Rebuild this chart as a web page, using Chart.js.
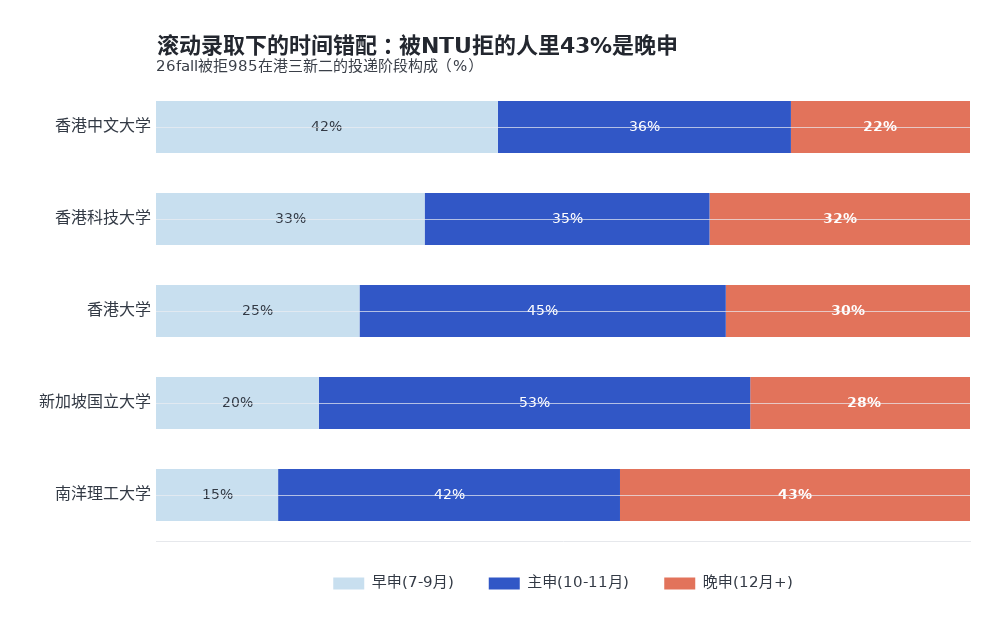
<!DOCTYPE html>
<html>
<head>
<meta charset="utf-8">
<script src="https://cdn.jsdelivr.net/npm/chart.js@4/dist/chart.umd.min.js"></script>
<style>
@font-face{font-family:'LatinDV';src:local('DejaVu Sans'),local('DejaVuSans');font-weight:normal;unicode-range:U+0020-007E,U+00A0-00FF;}
@font-face{font-family:'LatinDV';src:local('DejaVu Sans Bold'),local('DejaVuSans-Bold');font-weight:bold;unicode-range:U+0020-007E,U+00A0-00FF;}
html,body{margin:0;padding:0;background:#fff;}
#wrap{width:1004px;height:631px;position:relative;}
</style>
</head>
<body>
<div id="wrap"><canvas id="c" width="1004" height="631"></canvas></div>
<script>
const categories = ['香港中文大学','香港科技大学','香港大学','新加坡国立大学','南洋理工大学'];
const seriesNames = ['早申(7-9月)','主申(10-11月)','晚申(12月+)'];
const earlyApp = [42,33,25,20,15];
const mainApp = [36,35,45,53,42];
const lateApp = [22,32,30,28,43];
const titleText = '滚动录取下的时间错配：被NTU拒的人里43%是晚申';
const subtitleText = '26fall被拒985在港三新二的投递阶段构成（%）';

const FONT = "'LatinDV','Noto Sans CJK SC','DejaVu Sans',sans-serif";
const colors = ['#c8dfef','#3157c6','#e2735b'];
const labelColors = ['#333a45','#ffffff','#ffffff'];
const labelWeights = ['normal','normal','bold'];

// draw text giving full-width punctuation a whole em cell
function drawMixed(ctx, text, x, y, em){
  const special = {'：':'center','（':'right','）':'left'};
  let run = '';
  const flush = () => {
    if (run){ ctx.fillText(run, x, y); x += ctx.measureText(run).width; run = ''; }
  };
  for (const ch of text){
    if (special[ch]){
      flush();
      const m = ctx.measureText(ch);
      const inkW = m.actualBoundingBoxRight + m.actualBoundingBoxLeft;
      let left;
      if (special[ch] === 'center') left = x + (em - inkW)/2;
      else if (special[ch] === 'right') left = x + em*0.92 - inkW;
      else left = x + em*0.08;
      ctx.fillText(ch, left + m.actualBoundingBoxLeft, y);
      x += em;
    } else run += ch;
  }
  flush();
}

const titlePlugin = {
  id:'titlePlugin',
  afterDraw(chart){
    const ctx = chart.ctx, a = chart.chartArea;
    ctx.save();
    ctx.fillStyle = '#23272f';
    ctx.textBaseline = 'alphabetic';
    ctx.textAlign = 'left';
    ctx.font = 'bold 22px ' + FONT;
    drawMixed(ctx, titleText, a.left + 1, 53, 22);
    ctx.fillStyle = '#3a3f48';
    ctx.font = '15px ' + FONT;
    drawMixed(ctx, subtitleText, a.left, 71, 15);
    ctx.restore();
  }
};

const labelPlugin = {
  id:'labelPlugin',
  afterDatasetsDraw(chart){
    const ctx = chart.ctx;
    ctx.save();
    chart.data.datasets.forEach((ds, di) => {
      const meta = chart.getDatasetMeta(di);
      meta.data.forEach((el, i) => {
        const p = el.getCenterPoint();
        ctx.fillStyle = labelColors[di];
        ctx.font = labelWeights[di] + ' 14px ' + FONT;
        ctx.textAlign = 'center';
        ctx.textBaseline = 'middle';
        ctx.fillText(ds.data[i] + '%', p.x, p.y);
      });
    });
    ctx.restore();
  }
};

function build(){
  new Chart(document.getElementById('c'), {
    type:'bar',
    data:{
      labels: categories,
      datasets:[
        {label:seriesNames[0], data:earlyApp, backgroundColor:colors[0]},
        {label:seriesNames[1], data:mainApp, backgroundColor:colors[1]},
        {label:seriesNames[2], data:lateApp, backgroundColor:colors[2]}
      ]
    },
    options:{
      indexAxis:'y',
      responsive:false,
      animation:false,
      devicePixelRatio:1,
      datasets:{bar:{categoryPercentage:1, barPercentage:0.565, borderWidth:0}},
      layout:{padding:{left:0, right:34, top:81, bottom:30}},
      scales:{
        x:{
          stacked:true, min:0, max:100,
          afterFit(scale){ scale.height = 0; },
          ticks:{display:false},
          grid:{display:false, drawTicks:false},
          border:{display:true, color:'#e6e8ec', width:1}
        },
        y:{
          stacked:true,
          afterFit(scale){ scale.width = 156; },
          ticks:{color:'#333a45', font:{size:16, family:FONT}, padding:5},
          grid:{offset:false, drawTicks:false, color:'rgba(235,236,242,0.7)', lineWidth:1, z:1},
          border:{display:false}
        }
      },
      plugins:{
        legend:{
          position:'bottom',
          fullSize:false,
          labels:{boxWidth:31, boxHeight:12, padding:35, color:'#333a45', font:{size:15, family:FONT}}
        },
        tooltip:{enabled:false}
      }
    },
    plugins:[titlePlugin, labelPlugin]
  });
}
Promise.all([
  document.fonts.load('15px LatinDV'),
  document.fonts.load('bold 15px LatinDV'),
  document.fonts.load('15px "Noto Sans CJK SC"'),
  document.fonts.load('bold 15px "Noto Sans CJK SC"')
]).catch(()=>{}).then(build);
</script>
</body>
</html>
